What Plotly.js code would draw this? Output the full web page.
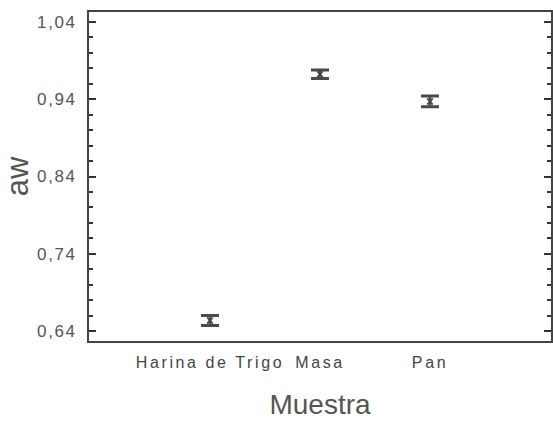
<!DOCTYPE html>
<html>
<head>
<meta charset="utf-8">
<script src="https://cdn.plot.ly/plotly-3.0.1.min.js"></script>
<style>
body { margin: 0; padding: 0; background: #fff; }
#chart { width: 553px; height: 425px; }
.ytick text { letter-spacing: 1.6px; }
.xtick text { letter-spacing: 2.6px; }
</style>
</head>
<body>
<div id="chart"></div>
<script>
const categories = ["Harina de Trigo", "Masa", "Pan"];
const awMean = [0.654, 0.972, 0.937];
const awError = [0.0065, 0.0055, 0.007];

const trace = {
  type: "scatter",
  mode: "markers",
  x: categories,
  y: awMean,
  marker: { symbol: "x-thin", size: 6, color: "#444", line: { width: 1.5, color: "#444" } },
  error_y: { type: "data", array: awError, visible: true, color: "#4a4a4a", thickness: 3, width: 9 },
  hoverinfo: "x+y",
  showlegend: false
};

const layout = {
  width: 553,
  height: 425,
  separators: ",.",
  margin: { l: 89, r: 2, t: 12, b: 84 },
  paper_bgcolor: "#fff",
  plot_bgcolor: "#fff",
  font: { family: "Liberation Sans, Arial, sans-serif", color: "#555" },
  xaxis: {
    type: "category",
    range: [-1.1, 3.1],
    showline: true,
    linecolor: "#444",
    linewidth: 2,
    mirror: true,
    ticks: "",
    showgrid: false,
    zeroline: false,
    tickfont: { size: 16, color: "#444" },
    ticklabelstandoff: 6,
    title: { text: "Muestra", font: { size: 28, color: "#555" }, standoff: 24 }
  },
  yaxis: {
    range: [0.6275, 1.0525],
    tick0: 0.64,
    dtick: 0.1,
    tickformat: ".2f",
    showline: true,
    linecolor: "#444",
    linewidth: 2,
    mirror: "ticks",
    ticks: "inside",
    ticklen: 7,
    tickwidth: 2,
    tickcolor: "#333",
    minor: { dtick: 0.02, ticks: "inside", ticklen: 4, tickwidth: 2, tickcolor: "#333", showgrid: false },
    showgrid: false,
    zeroline: false,
    tickfont: { size: 17, color: "#555" },
    ticklabelstandoff: 7,
    title: { text: "aw", font: { size: 31, color: "#555" }, standoff: 8 }
  }
};

Plotly.newPlot("chart", [trace], layout, { displayModeBar: false, staticPlot: true });
</script>
</body>
</html>
